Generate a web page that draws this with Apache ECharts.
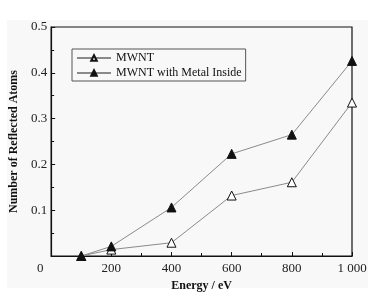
<!DOCTYPE html>
<html>
<head>
<meta charset="utf-8">
<script src="https://cdn.jsdelivr.net/npm/echarts@6/dist/echarts.min.js"></script>
<style>
  html, body { margin: 0; padding: 0; background: #fff; }
  #main { width: 384px; height: 307px; }
</style>
</head>
<body>
<div id="main"></div>
<script>
// energies in eV
const energy = [100, 200, 400, 600, 800, 1000];
const mwnt = [0, 0.014, 0.029, 0.132, 0.161, 0.335];
const mwntMetal = [0, 0.021, 0.106, 0.223, 0.265, 0.426];
const seriesNames = ['MWNT', 'MWNT with Metal Inside'];

const font = 'Liberation Serif, Times New Roman, serif';

const pairs = (ys) => energy.map((x, i) => [x, ys[i]]);

const chart = echarts.init(document.getElementById('main'));

chart.setOption({
  backgroundColor: '#fff',
  animation: false,
  graphic: [{
    type: 'rect',
    z: -10,
    shape: { x: 7, y: 20, width: 361, height: 268 },
    style: { fill: '#f8f8f8' },
  }],
  grid: {
    left: 47, top: 27, right: 32, bottom: 51,
    show: true, borderColor: '#111', borderWidth: 1.2,
  },
  legend: {
    data: seriesNames,
    orient: 'vertical',
    left: 72, top: 49,
    itemWidth: 34, itemHeight: 7, itemGap: 3,
    padding: [3, 4, 2, 4],
    borderColor: '#555', borderWidth: 1,
    textStyle: { fontFamily: font, fontSize: 12, color: '#111' },
  },
  xAxis: {
    type: 'value',
    min: 0, max: 1000, interval: 200,
    name: 'Energy / eV',
    nameLocation: 'middle',
    nameGap: 22,
    nameTextStyle: { fontFamily: font, fontSize: 12, fontWeight: 'bold', color: '#111' },
    axisLine: { lineStyle: { color: '#111', width: 1.2 } },
    axisTick: { inside: true, length: 4, lineStyle: { color: '#111' } },
    minorTick: { show: true, splitNumber: 2, length: 3, lineStyle: { color: '#111' } },
    splitLine: { show: false },
    axisLabel: {
      fontFamily: font, fontSize: 13, color: '#222', margin: 6,
      formatter: (v) => v === 0 ? '{z|0}' : (v === 1000 ? '1 000' : String(v)),
      rich: { z: { fontFamily: font, fontSize: 13, color: '#222', padding: [0, 22, 0, 0] } },
    },
  },
  yAxis: {
    type: 'value',
    min: 0, max: 0.5, interval: 0.1,
    name: 'Number of Reflected Atoms',
    nameLocation: 'middle',
    nameGap: 24,
    nameTextStyle: { fontFamily: font, fontSize: 12, fontWeight: 'bold', color: '#111' },
    axisLine: { show: true, lineStyle: { color: '#111', width: 1.2 } },
    axisTick: { inside: true, length: 4, lineStyle: { color: '#111' } },
    minorTick: { show: true, splitNumber: 2, length: 3, lineStyle: { color: '#111' } },
    splitLine: { show: false },
    axisLabel: {
      fontFamily: font, fontSize: 13, color: '#222', margin: 4,
      formatter: (v) => v === 0 ? '' : v.toFixed(1),
    },
  },
  series: [
    {
      name: seriesNames[0],
      type: 'line',
      data: pairs(mwnt),
      symbol: 'triangle',
      symbolSize: 9,
      lineStyle: { color: '#8a8a8a', width: 1 },
      itemStyle: { color: '#fff', borderColor: '#111', borderWidth: 1 },
    },
    {
      name: seriesNames[1],
      type: 'line',
      data: pairs(mwntMetal),
      symbol: 'triangle',
      symbolSize: 9,
      lineStyle: { color: '#8a8a8a', width: 1 },
      itemStyle: { color: '#111', borderColor: '#111', borderWidth: 1 },
    },
  ],
});
</script>
</body>
</html>
